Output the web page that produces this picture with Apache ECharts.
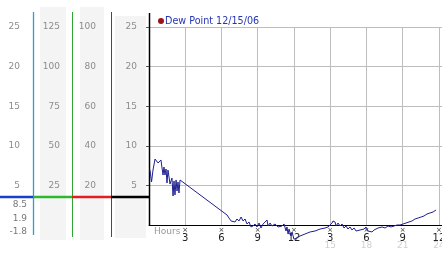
<!DOCTYPE html>
<html><head><meta charset="utf-8">
<script src="https://cdn.jsdelivr.net/npm/echarts@6/dist/echarts.min.js"></script>
<style>html,body{margin:0;padding:0;background:#fff}#c{width:442px;height:253px}</style>
</head><body><div id="c"></div>
<script>
const seriesName = 'Dew Point 12/15/06';
const hours = [0.08,0.21,0.33,0.50,0.58,0.75,0.91,0.99,1.16,1.24,1.32,1.41,1.49,1.57,1.74,1.90,1.99,2.07,2.15,2.24,2.32,2.40,2.48,2.57,2.73,
  6.46,6.62,6.79,6.95,7.12,7.28,7.45,7.62,7.78,7.95,8.11,8.28,8.44,8.61,8.77,8.94,9.11,9.27,9.44,9.60,9.77,9.85,10.02,10.18,10.43,10.68,10.84,11.01,11.18,11.34,11.42,11.51,11.59,11.75,11.84,12.00,
  12.09,12.50,12.91,13.33,13.74,14.16,14.57,14.82,14.98,15.15,15.23,15.40,15.48,15.65,15.81,15.98,16.14,16.31,16.47,16.64,16.80,16.97,17.14,17.30,17.47,17.63,17.80,17.96,18.13,18.29,18.46,18.63,18.79,18.96,19.12,19.29,19.54,19.78,20.03,20.28,20.53,20.78,21.03,21.27,21.52,21.77,22.02,22.27,22.52,22.76,23.01,23.26,23.51,23.76];
const dewPoint = [6.94,5.43,6.94,8.33,8.5,7.83,7.83,8.21,6.31,7.32,6.31,7.07,5.30,6.94,5.18,5.93,3.66,5.56,3.79,5.68,4.29,5.43,4.04,5.68,5.56,
  1.26,0.88,0.51,0.76,0.38,0.76,0.51,1.01,0.51,0.76,0.13,0.38,-0.25,-0.13,0.13,-0.25,0.25,-0.38,0.13,0.38,0.63,-0.13,0.25,-0.13,0.13,-0.25,0,-0.13,0.13,-0.76,-0.25,-1.14,-0.51,-1.39,-0.88,-1.8,
  -1.64,-1.39,-1.14,-0.88,-0.76,-0.51,-0.38,-0.25,-0.13,0.25,0.51,0.38,-0.13,0.25,-0.13,0.13,-0.38,-0.13,-0.51,-0.25,-0.63,-0.38,-0.76,-0.51,-0.63,-0.38,-0.51,-0.25,-0.76,-0.63,-0.88,-0.63,-0.51,-0.38,-0.51,-0.25,-0.38,-0.13,-0.25,-0.13,0,0,0.13,0.25,0.38,0.51,0.76,0.88,1.01,1.14,1.39,1.52,1.64,1.9];
const markerLevel = 3.5;
const scaleMax = [25, 100, 125, 25];
const scaleStep = [5, 20, 25, 5];
const hourStep = 3;

const FONT = 'DejaVu Sans';
const chart = echarts.init(document.getElementById('c'));
function yAx(i, offset, margin, extra) {
  return Object.assign({
    type: 'value', position: 'left', gridIndex: 0, offset: offset,
    min: 0, max: scaleMax[i], interval: scaleStep[i],
    axisLine: {show: false}, axisTick: {show: false}, splitLine: {show: false},
    axisLabel: {color: '#8c8c8c', fontSize: 9, fontFamily: FONT, margin: margin, showMinLabel: false}
  }, extra || {});
}
const maxV = Math.max.apply(null, dewPoint), minV = Math.min.apply(null, dewPoint), lastV = dewPoint[dewPoint.length - 1];
chart.setOption({
  animation: false,
  textStyle: {fontFamily: FONT},
  title: {
    left: 158, top: 16, padding: 0,
    text: '{c|}{t|' + seriesName + '}',
    textStyle: {fontWeight: 'normal', rich: {
      c: {width: 6, height: 6, borderRadius: 3, backgroundColor: '#9a1414', verticalAlign: 'middle'},
      t: {fontSize: 9.6, fontWeight: 'normal', color: '#2535b5', fontFamily: FONT, padding: [0, 0, 0, 1], lineHeight: 10, verticalAlign: 'middle'}
    }}
  },
  grid: {left: 149, top: 27, width: 293.6, height: 198, containLabel: false, outerBoundsMode: 'none'},
  xAxis: {
    type: 'value', min: 0, max: 24.3, interval: hourStep,
    axisLine: {lineStyle: {color: '#000', width: 1}},
    axisTick: {show: false},
    splitLine: {show: true, lineStyle: {color: '#bdbdbd'}},
    axisLabel: {
      margin: 3, showMinLabel: false, showMaxLabel: false, hideOverlap: false,
      formatter: function (v) {
        if (v === 0 || Math.abs(v % hourStep) > 1e-6) return '';
        const h12 = ((v - 1) % 12) + 1;
        return '{m|×}\n{n|' + h12 + '}' + (v > 12 ? '\n{f|' + v + '}' : '');
      },
      rich: {
        m: {fontSize: 7, lineHeight: 5, color: '#333', fontFamily: FONT},
        n: {fontSize: 10, lineHeight: 10, color: '#222', fontFamily: FONT},
        f: {fontSize: 9, lineHeight: 6, color: '#d0d0d0', fontFamily: FONT}
      }
    }
  },
  yAxis: [
    yAx(0, 0, 12, {axisTick: {show: true, length: 3, lineStyle: {color: '#555'}}, splitLine: {show: true, lineStyle: {color: '#bdbdbd'}}}),
    yAx(1, 38, 15),
    yAx(2, 77, 12),
    yAx(3, 116, 13)
  ],
  series: [{
    name: seriesName, type: 'line', yAxisIndex: 0,
    data: hours.map((h, i) => [h, dewPoint[i]]),
    showSymbol: false, symbol: 'none', clip: false,
    lineStyle: {color: '#1f1f8f', width: 1}
  }]
});
const ly = Math.round(chart.convertToPixel({yAxisIndex: 0}, markerLevel)) ;
const g = [
  {type: 'rect', z: -10, shape: {x: 40, y: 7, width: 26, height: 233}, style: {fill: '#f4f4f4'}},
  {type: 'rect', z: -10, shape: {x: 80, y: 7, width: 24, height: 233}, style: {fill: '#f4f4f4'}},
  {type: 'rect', z: -10, shape: {x: 115, y: 16, width: 31, height: 222}, style: {fill: '#f4f4f4'}},
  {type: 'line', shape: {x1: 33.5, y1: 12, x2: 33.5, y2: 235}, style: {stroke: '#2a9fd0', lineWidth: 1.3}},
  {type: 'line', shape: {x1: 72.5, y1: 12, x2: 72.5, y2: 237}, style: {stroke: '#2fa62f', lineWidth: 1}},
  {type: 'line', shape: {x1: 111.5, y1: 12, x2: 111.5, y2: 237}, style: {stroke: '#a82222', lineWidth: 1}},
  {type: 'line', shape: {x1: 149.5, y1: 13, x2: 149.5, y2: 225}, style: {stroke: '#000', lineWidth: 1.5}},
  {type: 'line', shape: {x1: 0, y1: ly, x2: 33, y2: ly}, style: {stroke: '#1a3fcf', lineWidth: 2.5}},
  {type: 'line', shape: {x1: 33, y1: ly, x2: 72, y2: ly}, style: {stroke: '#2eb82e', lineWidth: 2.5}},
  {type: 'line', shape: {x1: 72, y1: ly, x2: 111, y2: ly}, style: {stroke: '#e02020', lineWidth: 2.5}},
  {type: 'line', shape: {x1: 111, y1: ly, x2: 149, y2: ly}, style: {stroke: '#000', lineWidth: 2.5}},
  {type: 'text', style: {x: 154, y: 232, text: 'Hours', fill: '#999', font: '9px "DejaVu Sans"', verticalAlign: 'middle', textVerticalAlign: 'middle'}},
  {type: 'text', style: {x: 27, y: 205, text: maxV.toFixed(1), fill: '#777', font: '9px "DejaVu Sans"', align: 'right', textAlign: 'right', verticalAlign: 'middle', textVerticalAlign: 'middle'}},
  {type: 'text', style: {x: 27, y: 219, text: lastV.toFixed(1), fill: '#777', font: '9px "DejaVu Sans"', align: 'right', textAlign: 'right', verticalAlign: 'middle', textVerticalAlign: 'middle'}},
  {type: 'text', style: {x: 27, y: 232, text: minV.toFixed(1), fill: '#777', font: '9px "DejaVu Sans"', align: 'right', textAlign: 'right', verticalAlign: 'middle', textVerticalAlign: 'middle'}}
];
chart.setOption({graphic: g});
</script></body></html>
